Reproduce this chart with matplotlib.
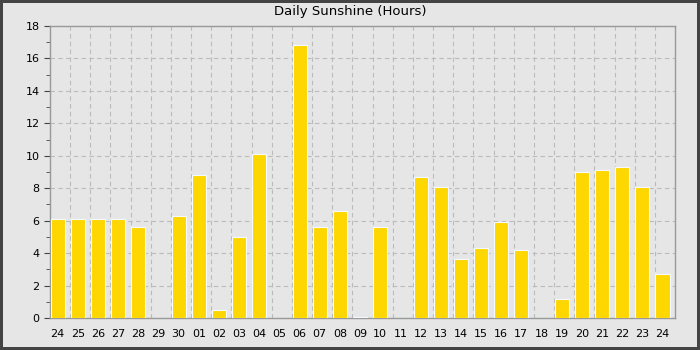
import matplotlib.pyplot as plt
import numpy as np

days = ['24', '25', '26', '27', '28', '29', '30', '01', '02', '03', '04', '05',
        '06', '07', '08', '09', '10', '11', '12', '13', '14', '15', '16', '17',
        '18', '19', '20', '21', '22', '23', '24']
sunshine = [6.1, 6.1, 6.1, 6.1, 5.6, 0.0, 6.3, 8.8, 0.5, 5.0, 10.1, 0.0,
            16.8, 5.6, 6.6, 0.05, 5.6, 0.0, 8.7, 8.1, 3.65, 4.3, 5.9, 4.2,
            0.0, 1.2, 9.0, 9.1, 9.3, 8.1, 2.7]

bg = '#e6e6e6'
fig = plt.figure(figsize=(7, 3.5), dpi=100)
fig.patch.set_facecolor(bg)
fig.patch.set_edgecolor('#444444')
fig.patch.set_linewidth(4)

ax = fig.add_axes([50 / 700, 32 / 350, 625 / 700, 292 / 350])
ax.set_facecolor(bg)
n = len(days)
x = np.arange(n)
bw = 0.7
# bars sit at the left of each day cell
ax.bar(x + 0.03, sunshine, width=bw, align='edge', color='#ffd700',
       edgecolor='#f4faff', linewidth=0.8, zorder=3)

ax.set_xlim(0, n)
ax.set_ylim(0, 18)
ax.set_xticks(x + 0.03 + bw / 2)
ax.set_xticklabels(days)
ax.set_xticks(x[1:], minor=True)
ax.set_yticks(np.arange(0, 19, 2))
ax.set_yticks(np.arange(1, 18, 2), minor=True)

ax.tick_params(axis='x', which='major', length=0, pad=8, labelsize=8)
ax.tick_params(axis='x', which='minor', length=0)
ax.tick_params(axis='y', which='major', length=4, labelsize=8, color='#444444')
ax.tick_params(axis='y', which='minor', length=3, color='#444444')

ax.grid(axis='y', which='major', color='#bbbbbb', linestyle=(0, (4, 3)), linewidth=0.8, zorder=0)
ax.grid(axis='x', which='minor', color='#bbbbbb', linestyle=(0, (4, 3)), linewidth=0.8, zorder=0)

for s in ax.spines.values():
    s.set_color('#999999')
    s.set_linewidth(1)

fig.text(0.5, 1 - 12 / 350, 'Daily Sunshine (Hours)', ha='center', va='center', fontsize=9.5)

fig.savefig('out.png', dpi=100, facecolor=fig.get_facecolor(), edgecolor=fig.get_edgecolor())
